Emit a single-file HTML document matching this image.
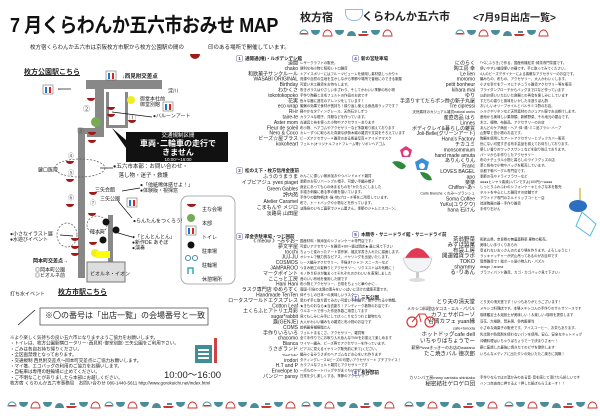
<!DOCTYPE html><html><head><meta charset="utf-8"><style>
*{margin:0;padding:0}
body{width:600px;height:416px;background:#fff;position:relative;overflow:hidden;font-family:"Liberation Sans","Noto Sans CJK JP",sans-serif;color:#222}
.a{position:absolute;white-space:nowrap}
.t{font-size:10px;line-height:10.8px;transform:scale(.5);transform-origin:0 0}
.t.d{font-size:6.8px}
.r{text-align:right;transform-origin:100% 0}
.sh{font-size:9px;font-weight:bold;transform:scale(.5);transform-origin:0 0}
.sh b{display:inline-block;width:12px;height:10px;border:1px solid #66a;border-radius:3px;text-align:center;line-height:10px;color:#336;margin-right:4px}
.cup{display:inline-block;width:10px;height:5px;background:#a01818;border-radius:0 0 5px 5px}
</style></head><body>
<div class="a" style="left:10px;top:9px;font-size:20px;font-weight:bold;letter-spacing:-0.5px;color:#111;transform:scaleX(0.9);transform-origin:0 0">7 月くらわんか五六市おみせ MAP</div>
<div class="a t" style="left:30px;top:45px;font-size:11px">枚方宿くらわんか五六市は京阪枚方市駅から枚方公園駅の間の</div>
<div class="a" style="left:190px;top:46px"><span class="cup"></span></div>
<div class="a t" style="left:208px;top:45px;font-size:11px">印のある場所で開催しています。</div>

<div class="a" style="left:300px;top:9px;font-size:11px;font-weight:bold">枚方宿</div>
<div class="a" style="left:345px;top:9px;width:16px;height:10px;border:1px solid #9bd;border-radius:0 0 8px 8px"></div>
<div class="a" style="left:362px;top:8px;font-size:11px;font-weight:bold">くらわんか五六市</div>
<div class="a" style="left:473px;top:9px;font-size:10px;font-weight:bold">&lt;7月9日出店一覧&gt;</div>

<svg class="a" style="left:0;top:0" width="600" height="416">
<defs>
<g id="u">
<path d="M0 6 a4 4 0 0 1 8 0 z" fill="#fff" stroke="#4a8c99" stroke-width="1"/><rect x="1" y="5" width="6" height="1.5" fill="#c33"/>
<path d="M11 2 h9 a4.5 5 0 0 1 -9 0 z" fill="#4a8c99"/>
<path d="M23 8 a4.5 6 0 0 1 9 0 z" fill="none" stroke="#c33" stroke-width="1"/>
<path d="M35 2 h9 a4.5 5 0 0 1 -9 0 z" fill="#4a8c99"/>
<path d="M47 8 a4.5 5 0 0 1 9 0 z" fill="#4a8c99"/>
<path d="M58 6 h11 l-2 2 h-8 z" fill="#c33"/><rect x="62" y="3" width="5" height="2" fill="#4a8c99"/>
<path d="M71 2 h9 a4.5 5 0 0 1 -9 0 z" fill="#4a8c99"/>
<path d="M83 8 a4.5 6 0 0 1 9 0 z" fill="none" stroke="#c33" stroke-width="1"/>
</g>
</defs>
<use href="#u" x="300" y="28"/><use href="#u" x="456" y="28"/>
<use href="#u" x="8" y="400"/><use href="#u" x="105" y="400"/><use href="#u" x="203" y="400"/><use href="#u" x="302" y="400"/><use href="#u" x="405" y="400"/><use href="#u" x="505" y="400"/>

<g fill="#888">
<rect x="86" y="80" width="76" height="9"/>
<rect x="95" y="80" width="9" height="50"/>
<rect x="78" y="128" width="26" height="6"/>
<rect x="78" y="128" width="7" height="150"/>
<rect x="106" y="92" width="3" height="36"/>
<rect x="125" y="92" width="3" height="36"/>
<rect x="106" y="125" width="22" height="3"/>
<rect x="87" y="134" width="17" height="3"/>
<rect x="108" y="215" width="5" height="62"/>
</g>
<rect x="87" y="262" width="38" height="20" fill="#ddd" stroke="#777"/>
<g fill="#a01818">
<path d="M87 98h8a4 3 0 0 1 -8 0z"/><path d="M107 107h8a4 3 0 0 1 -8 0z"/><path d="M107 114h8a4 3 0 0 1 -8 0z"/><path d="M128 120h8a4 3 0 0 1 -8 0z"/>
<path d="M88 132h8a4 3 0 0 1 -8 0z"/><path d="M88 140h8a4 3 0 0 1 -8 0z"/><path d="M66 161h8a4 3 0 0 1 -8 0z"/><path d="M66 179h8a4 3 0 0 1 -8 0z"/>
<path d="M89 192h8a4 3 0 0 1 -8 0z"/><path d="M66 204h8a4 3 0 0 1 -8 0z"/><path d="M88 213h8a4 3 0 0 1 -8 0z"/><path d="M71 238h8a4 3 0 0 1 -8 0z"/>
<path d="M89 242h8a4 3 0 0 1 -8 0z"/><path d="M71 246h8a4 3 0 0 1 -8 0z"/><path d="M71 253h8a4 3 0 0 1 -8 0z"/>
<path d="M186 205h9a4.5 3 0 0 1 -9 0z"/>
</g>
<rect x="126" y="132" width="102" height="30" fill="#111"/>
<polygon points="112,128 126,140 126,148" fill="#111"/>
<circle cx="96" cy="122" r="5" fill="#7a5"/>
<circle cx="131" cy="100" r="4" fill="#ee2"/><circle cx="95" cy="253" r="4" fill="#ee2"/><rect x="96" y="251" width="14" height="7" fill="#ff0"/>
<ellipse cx="80" cy="168" rx="25" ry="9" fill="none" stroke="#555" stroke-dasharray="2,1.5" stroke-width="0.7"/>
<ellipse cx="97" cy="225" rx="10" ry="9" fill="none" stroke="#555" stroke-dasharray="2,1.5" stroke-width="0.7"/>
<ellipse cx="67" cy="235" rx="10" ry="12" fill="none" stroke="#555" stroke-dasharray="2,1.5" stroke-width="0.7"/>
<g stroke="#111" stroke-width="0.7">
<line x1="58" y1="89" x2="71" y2="89"/><line x1="112" y1="112" x2="152" y2="117"/><line x1="100" y1="168" x2="113" y2="168"/>
<line x1="122" y1="191" x2="140" y2="188"/><line x1="118" y1="201" x2="132" y2="218"/><line x1="115" y1="232" x2="132" y2="237"/>
<line x1="18" y1="325" x2="35" y2="310"/><line x1="60" y1="235" x2="73" y2="236"/>
</g>
<g><rect x="43" y="85" width="10" height="9" fill="#fff" stroke="#555" stroke-width="0.5"/><rect x="45" y="87" width="2" height="6" fill="#27c"/><rect x="49" y="87" width="2" height="6" fill="#d22"/></g>
<g><rect x="106" y="71" width="10" height="9" fill="#fff" stroke="#555" stroke-width="0.5"/><rect x="108" y="73" width="2" height="6" fill="#27c"/><rect x="112" y="73" width="2" height="6" fill="#d22"/></g>
<g><rect x="163" y="102" width="10" height="9" fill="#fff" stroke="#555" stroke-width="0.5"/><rect x="165" y="104" width="2" height="6" fill="#27c"/><rect x="169" y="104" width="2" height="6" fill="#d22"/></g>
<g><rect x="127" y="198" width="10" height="9" fill="#fff" stroke="#555" stroke-width="0.5"/><rect x="129" y="200" width="2" height="6" fill="#27c"/><rect x="133" y="200" width="2" height="6" fill="#d22"/></g>
<g fill="#111"><circle cx="106" cy="222" r="3.5"/><circle cx="116" cy="230" r="3.5"/><circle cx="103" cy="240" r="3.5"/></g>
<rect x="181" y="196" width="54" height="88" rx="7" fill="#fff" stroke="#999" stroke-width="0.8"/>
<path d="M187 204h9a4.5 3 0 0 1 -9 0z" fill="#a01818"/>
<circle cx="191" cy="218" r="4" fill="#7a5"/>
<rect x="186" y="226" width="10" height="9" fill="#fff" stroke="#555" stroke-width="0.5"/><rect x="188" y="228" width="2" height="6" fill="#27c"/><rect x="192" y="228" width="2" height="6" fill="#d22"/>
<circle cx="191" cy="245" r="3.5" fill="#111"/>
<circle cx="188" cy="258" r="2.5" fill="none" stroke="#48a"/><circle cx="195" cy="258" r="2.5" fill="none" stroke="#48a"/>
<path d="M188 274 v-6 h5 v6" fill="none" stroke="#3ab" stroke-width="1.5"/>
<rect x="40" y="308" width="168" height="17" fill="#fff" stroke="#555" stroke-width="0.8"/>
<rect x="195" y="345" width="17" height="18" fill="#3e8e95"/>
<g fill="#fff"><rect x="198" y="349" width="11" height="2"/><rect x="198" y="353" width="11" height="2"/><rect x="198" y="357" width="11" height="2"/></g>
<rect x="214" y="338" width="3" height="25" fill="#c44"/>
<path d="M400 150 l6 -4 l6 4 l-2 7 h-8 z" fill="#e2387a"/><circle cx="406" cy="153" r="3" fill="#fff"/>
<path d="M415 162 l7 -4 l7 4 l-2 8 h-10 z" fill="#3a8fd6"/><circle cx="422" cy="166" r="3" fill="#fff"/>
<path d="M392 162 q8 -3 14 4 q-4 8 -14 -4z M420 172 q10 0 12 8 q-8 2 -12 -8z" fill="#2c8a3a"/>
<ellipse cx="578" cy="206" rx="9" ry="6" fill="#2a6fc2"/><line x1="580" y1="188" x2="580" y2="200" stroke="#c90"/>
<polygon points="582,212 596,224 590,236 576,226" fill="#fff" stroke="#5bd" stroke-width="1"/>
<path d="M405 258 q12 -20 25 0 z" fill="#e23a55"/>
<path d="M403 258 h29 q-3 14 -14 14 q-11 0 -15 -14z" fill="#f2f4f6" stroke="#bbb" stroke-width="0.6"/>
<rect x="416" y="272" width="3" height="6" fill="#ccc"/><ellipse cx="417" cy="280" rx="8" ry="2" fill="#ddd"/>
<circle cx="412" cy="322" r="5" fill="none" stroke="#d33" stroke-width="1.2"/><circle cx="430" cy="322" r="5" fill="none" stroke="#d33" stroke-width="1.2"/>
<path d="M412 322 l7 -8 h6 l5 8 M419 314 l2 8" fill="none" stroke="#d33" stroke-width="1"/>
</svg>

<div class="a" style="left:24px;top:67px;font-size:7px;font-weight:bold;text-decoration:underline">枚方公園駅こちら</div>
<div class="a t" style="left:122px;top:74px;font-size:11px;font-weight:bold">↓西見附交差点</div>
<div class="a" style="left:57px;top:86px;font-size:6px">←</div>
<div class="a t" style="left:168px;top:89px">淀川</div>
<div class="a t" style="left:140px;top:97px">御堂本社前<br>御堂別館</div>
<div class="a t" style="left:153px;top:114px">●バルーンアート</div>
<div class="a" style="left:83px;top:104px;font-size:7px;color:#555">②</div>
<div class="a" style="left:129px;top:113px;font-size:7px;color:#555">①</div>
<div class="a" style="left:77px;top:126px;font-size:7px;color:#555">③</div>
<div class="a" style="left:68px;top:151px;font-size:6px;color:#555">④</div>
<div class="a" style="left:68px;top:168px;font-size:6px;color:#555">⑤</div>
<div class="a" style="left:68px;top:193px;font-size:6px;color:#555">⑥</div>
<div class="a" style="left:90px;top:198px;font-size:6px;color:#555">⑦</div>
<div class="a t" style="left:38px;top:168px">鍵口医院</div>
<div class="a t" style="left:128px;top:133px;width:200px;text-align:center;color:#fff;font-size:11px">交通規制区間</div>
<div class="a" style="left:128px;top:139px;width:100px;text-align:center;color:#fff;font-size:8px;font-weight:bold;line-height:9px">車両･二輪車の走行で<br>きません</div>
<div class="a t" style="left:128px;top:157px;width:200px;text-align:center;color:#fff;font-size:9px">10:00〜16:00</div>
<div class="a" style="left:113px;top:163px;font-size:5.5px;line-height:9px">●五六市本部：お問い合わせ・<br>　落し物・迷子・救護</div>
<div class="a t" style="left:95px;top:188px">三矢会館</div>
<div class="a t" style="left:140px;top:183px">●「他紙稀体感せよ！」<br>●体験版・視探窓</div>
<div class="a t" style="left:100px;top:197px">三矢公園</div>
<div class="a t" style="left:133px;top:219px">●らんたんをつくろう!</div>
<div class="a t" style="left:90px;top:230px">陣本町</div>
<div class="a t" style="left:132px;top:235px">●「とんとんとん」<br>●新作DE あそぼ<br>●演奏</div>
<div class="a t" style="left:10px;top:232px">●小さなイラスト展<br>●水遊びイベント</div>
<div class="a t" style="left:33px;top:259px;font-weight:bold">岡本町交差点→</div>
<div class="a t" style="left:35px;top:268px">◎岡本町公園<br>◎ビオルネ前</div>
<div class="a t" style="left:90px;top:272px">ビオルネ・イオン</div>
<div class="a t" style="left:10px;top:292px">打ち水イベント</div>
<div class="a" style="left:58px;top:287px;font-size:7px;font-weight:bold;text-decoration:underline">枚方市駅こちら</div>
<div class="a" style="left:45px;top:310px;font-size:8px;line-height:12px">※〇の番号は「出店一覧」の会場番号と一致</div>
<div class="a t" style="left:202px;top:203px;line-height:28px">主な会場<br>本部<br>トイレ<br>駐車場<br>駐輪場<br>休憩場所</div>
<div class="a t" style="left:10px;top:335px;line-height:11.4px;font-size:9px">※より楽しく気持ちの良い五六市になりますようご協力をお願いします。<br>・トイレは、枚方公園駅横ロータリー･西見附･御堂別館･三矢公園をご利用下さい。<br>・ごみは各自お持ち帰りください。<br>・全区画禁煙となっております。<br>・交通規制 西見附交差点〜岡本町交差点にご協力お願いします。<br>・マイ箸、エコバッグの利用のご協力をお願いします。<br>・自転車は専用の駐輪場に止めてください。<br>・ご不明なことがありましたら本部にお越しください。<br>枚方宿 くらわんか五六市事務局　お問い合わせ 080-1440-5611 http://www.gorokuichi.net/index.html</div>
<div class="a" style="left:164px;top:367px;font-size:9.5px">10:00〜16:00</div>

<div class="a sh" style="left:236px;top:55px"><b>1</b>通開通(櫓)・ルボデシデシ館</div>
<div class="a t r" style="right:302px;top:61px;width:136px">道聞<br>chako<br>和欧菓子サンクルール<br>WASABI ORIGINAL<br>Birthday<br>わかくさ<br>tokotokopoko<br>花実<br>eco wrap<br>Ri-ir<br>taire-te<br>Aster mom<br>Fleur de soleil<br>Nero &amp; Coco<br>ビーズ☆屋ブラス<br>kokoheart</div>
<div class="a t d" style="left:300px;top:61px">レザークラフトの販売。<br>便利な布小物と昭和レトロ雑貨<br>＊アイスポリーにはフルーツピューレを使用し素材感しっかり＊<br>資源や自然の生地を生かしながら季節や場所で普段にのできる服屋<br>可愛い木工雑貨をお持ちします。<br>吹きガラスはやさしい手ざわり、そしてかわいい季節の布小物<br>手作り陶器と羊毛フェルトの作品のお店です<br>色々な器に造花のアレンジをしています！<br>蜜蝋の効果で食材が長持ち！繰り返し使える食品用ラップです？<br>軽やかなタティングレース、天然石少しずつ<br>カラフルな帽子、洋服などを作っています。<br>古道具と布を使った小物やアクセサリーあります<br>布小物、ヘアゴムやアクセサリーなど多数取り揃えております<br>カレーずつに取られた真妻な伊勢木綿の雑貨や文具をそろえています<br>ビーズアクセサリー＊雑貨のある風景写真＊アイデアマスク<br>フェルト(オリジナルフォトフレーム等)･リボンヘアゴム</div>
<div class="a sh" style="left:236px;top:167px"><b>2</b>松のえ下・枚方信用金庫前</div>
<div class="a t r" style="right:302px;top:174px;width:136px;line-height:12.4px">ふうのうまうま<br>イブピアジュ yves piaget<br>Green Gables<br>評内苑<br>Atelier Caramel<br>こまもんや メジロ<br>淡路島 山田屋</div>
<div class="a t d" style="left:300px;top:174px">わんこに優しい無添加おやつハンドメイド雑貨<br>季節のお花リバーシブル帽子、可愛い手編み帽子<br>身近にあっても心の休まるものを｢かたち｣にしました<br>手描き刺繍に着る季の服を描いています。<br>手作りの動物柄(木･猫･他)ブローチ等をご用意しています。<br>布で、トートバッグや小物などを作っています。<br>淡路島のいちご農家でジャム屋さん。季節のジャムとスコーン。</div>
<div class="a sh" style="left:236px;top:233px"><b>3</b>岸金寺駐車場・つじ囲前</div>
<div class="a t r" style="right:302px;top:239px;width:152px">《 meow 》~みゃお~<br>夢文字屋<br>tocchi<br>JUJ-JU<br>COSMOS<br>JAMPAROO<br>マークポイント<br>ここっと工房<br>Hani Hani<br>ラスク専門店 ゆめらすく<br>Handmade TenTen<br>ロータスワールドエクスプレス<br>Cotton Leaf<br>土くらふとアトリエ月彩<br>sugar*rabbit<br>露(GENJE)<br>COMS<br>手作りいろいろ<br>chacomo<br>Bianca<br>うさぎランド<br><span style="font-size:6px">*Paul*Tulle*</span><br>irodori<br>H.T and P<br>Envelope to<br>パンジー pansy</div>
<div class="a t d" style="left:300px;top:239px">国産材料・無添加のシフォンケーキ専門店です♪<br>可愛いアクセサリーを雑貨＊80〜袋は閉店★ 最に見て下さい<br>ちょっと変わったアート書作家、福文字書き入れたに描画します。<br>オシャレで魅力的なピアス、イヤリングを出品いたします。<br>レース編みアクセサリー、手描きTシャツ･スニーカーなど<br>つまみ細工の髪飾りとアクセサリー。リクエストはお気軽に！<br>モノ作り好きが集まってそれぞれのかわいいを表現しました<br>昔のいい布地を使用した服です<br>布小物とアクセサリー、日常をちょっと華やかに…<br>南国･引島の太陽の恵みをいっぱいに活けた健康茶葉です。<br>体そうしの日本一の美味しいラスク<br>思わず手に取り着てみたい可愛い手刺繍や、癒やされる小物類。<br>★きものおなら★当衣割り！アンティーク着物のお店です♪<br>ウルネートで作った作品多数ご用意してます<br>見てもしみじみ手にしてほっこりなうつわと動物たち<br>大人かわいい編みもの雑貨と布小物のお店です<br>絵柄最各種樹脂たん<br>フェルトまるこさ、アクセサリー、雑貨等<br>全て手作りでにお取り入れ色んなTVIIIをお揃えて楽しめます<br>ワイヤー編み、ビーズ等でアクセサリーを作っています。<br>ピアスに見えるイヤリング販売前に来て(ください。<br>編みぐるみうさぎのヘアゴムなどお心をいれ作ります<br>タティングレース&amp;ビーズの可愛いアクセサリー＊ プチプライス！<br>カラフルなフェルト雑貨とアクセサリーです<br>一点ものトートバッグやがまぐちいかがですか〜<br>日常を少し楽しくする、季節のアクセサリー</div>
<div class="a sh" style="left:352px;top:55px"><b>4</b>新の宮駐車場</div>
<div class="a t r" style="right:125px;top:61px;width:190px">にのらく<br>陶工房 幸<br>Le lien<br>moromo<br>petit bonheur<br>kihara mai<br>ゆり<br>手造りすてだらポン酢の新子丸屋<br>Tre cipressi<br><span style="font-size:7px">天然素材のカジュアル雑貨natural works</span><br>産直逸品 はら<br>Linnes<br>ボディクレイ&amp;暮らしの雑貨<br>Joli-Belle(グリーンアート)<br>Hana's Factory<br>チカユミ<br>monsommium<br>hand made amuta<br>ありんくりん<br>Franc<br>LOVES BAGEL<br>apo<br>楽楽<br>Chiffon~あ~<br><span style="font-size:7px">Carte Bianche くれみ～ブランシュ</span><br>Soma Coffee<br>YuKu(ユウクウ)<br>hana 石けん</div>
<div class="a t d" style="left:480px;top:61px">｢べにふうき｣で作る、国産有機紅茶･緑茶専門茶屋です。<br>使いやすい普段使いの器です。手に取ってみてください。<br>4人のビーズデザイナーによる素敵なアクセサリーのお店です。<br>編みもの、布もの、アクセサリー、大人かわいくします。<br>小さな幸せをテーマにナチュラル雑貨アクセサリー等を販売<br>ブライダンブローチからバッグまで口など作っています<br>以前お使いいただいた食器との再会を楽しみにしています<br>すだちの香りと風味をいかした手造りぽん酢<br>おいしいオリーブオイルとバルサミコ酢のお店。<br>シルクやリネンなど天然素材のカジュアル服でお出掛けします。<br>産地から美味しい果物類、新鮮野菜、それ地元の屋台です。<br>木工、植物、布製品、アクセサリーのお店<br>あんどのケア商品・ヘア･体･湯･ミニ品ブラシ･ハーブ<br>山野草と苔小物のお店です。<br>陶器を使用したアートアクセサリーとブックカバー販売<br>世にない可愛すぎる布手芸品を揃えてお待ちしております。<br>優しい香りのワックスサシェなどを取り揃えております。<br>パーツから手作りしたアクセサリー<br>布のナチュラル小物と暮らしのライフグッズの店<br>革と帆布で小物やバッグを販売しています。<br>京都下鴨ベーグル専門店です。<br>季節の花やドライフラワーなど<br>●●●●ヒンヤリ素焼いパンですよ(100円)～●●●●<br>しっとりふわふわのシフォンケーキと小さな本を販売<br>ネルトを中心とした雑貨すの店舗です<br>アウトドア専門のネルドリップコーヒー店<br>琉球陶器の器・手作り雑貨<br>手作り石けん</div>
<div class="a sh" style="left:352px;top:231px"><b>5</b>本願寺・サニードライ館・サニードライ前</div>
<div class="a t r" style="right:125px;top:237px;width:150px;line-height:11px;font-size:11px">茶翁野菜<br>みずほ製菓<br>布袋工房<br>開運雑貨ラボ<br>TOKO<br>shammy<br>る･りあん</div>
<div class="a t d" style="left:480px;top:237px;line-height:11px">和歌山県、奈良県の無農薬野菜 果物の販売。<br>美味しい手づくりあられ<br>意まれないおっさんのたまり場を作ります。よろしゅうに！<br>ラッキャッチャーが沢山吊ってあるのがお目印です<br>簡単雑貨で！指ボール製小物入れ・パズル<br>design ﾌ aroma<br>ブラフィパンド雑貨、カゴ・カゴバック見て下さい♪</div>
<div class="a sh" style="left:352px;top:294px"><b>7</b>三矢公園</div>
<div class="a t r" style="right:125px;top:299px;width:270px;line-height:13px;font-size:11px">とり天の清天堂<br><span style="font-size:8px">メキシコ料理店タコス・エル・パパル</span><br>カフェサボローゾ<br>台湾カフェ yuan縁<br><span style="font-size:8px">cafe+tonoda</span><br>ホットドッグcafe dell<br>いちゃりばちょうでー<br><span style="font-size:8px">薪窯Pizzaきっきーのお店のwadano</span><br>たこ焼きバル 徳次郎</div>
<div class="a t d" style="left:480px;top:299px;line-height:13px">とり天の清天堂です！いつもありがとうございます！<br>メキシコ料理店です。本場メキシコ人の手作りのサルサソースです<br>珈琲鑑定士＆焙煎士が美味しい！＆楽しい♪珈琲を提供します<br>豆花、大根餅、薏米粥、魯肉飯便当<br>小さめな焼菓子の販売です。アイスコーヒー、お茶もあります。<br>乳化剤や防腐剤を使わないパンを使用。安心、安全なホットドッグ<br>沖縄料理はいちゃりばちょうでーで決まりさぁ〜！<br>薪に窯焼した最強に焼きたてのピザを提供します<br>いろんなメディアに出たダシの効いたたこ焼きに挑戦！</div>
<div class="a sh" style="left:352px;top:369px"><b>8</b>長谷邸前</div>
<div class="a t r" style="right:125px;top:375px;width:270px;line-height:12px"><span style="font-size:8px">カリンバ工房many cantaku shinkaku</span><br><span style="font-size:11px">秘密結社ゲロゲロ団</span></div>
<div class="a t d" style="left:480px;top:375px;line-height:12px">手作りならではの温かみのある音･音を感じて頂けたら嬉しいです<br>ハンコ自由自に押せるよ！押した紙ほもらえまーす！！</div>
</body></html>
